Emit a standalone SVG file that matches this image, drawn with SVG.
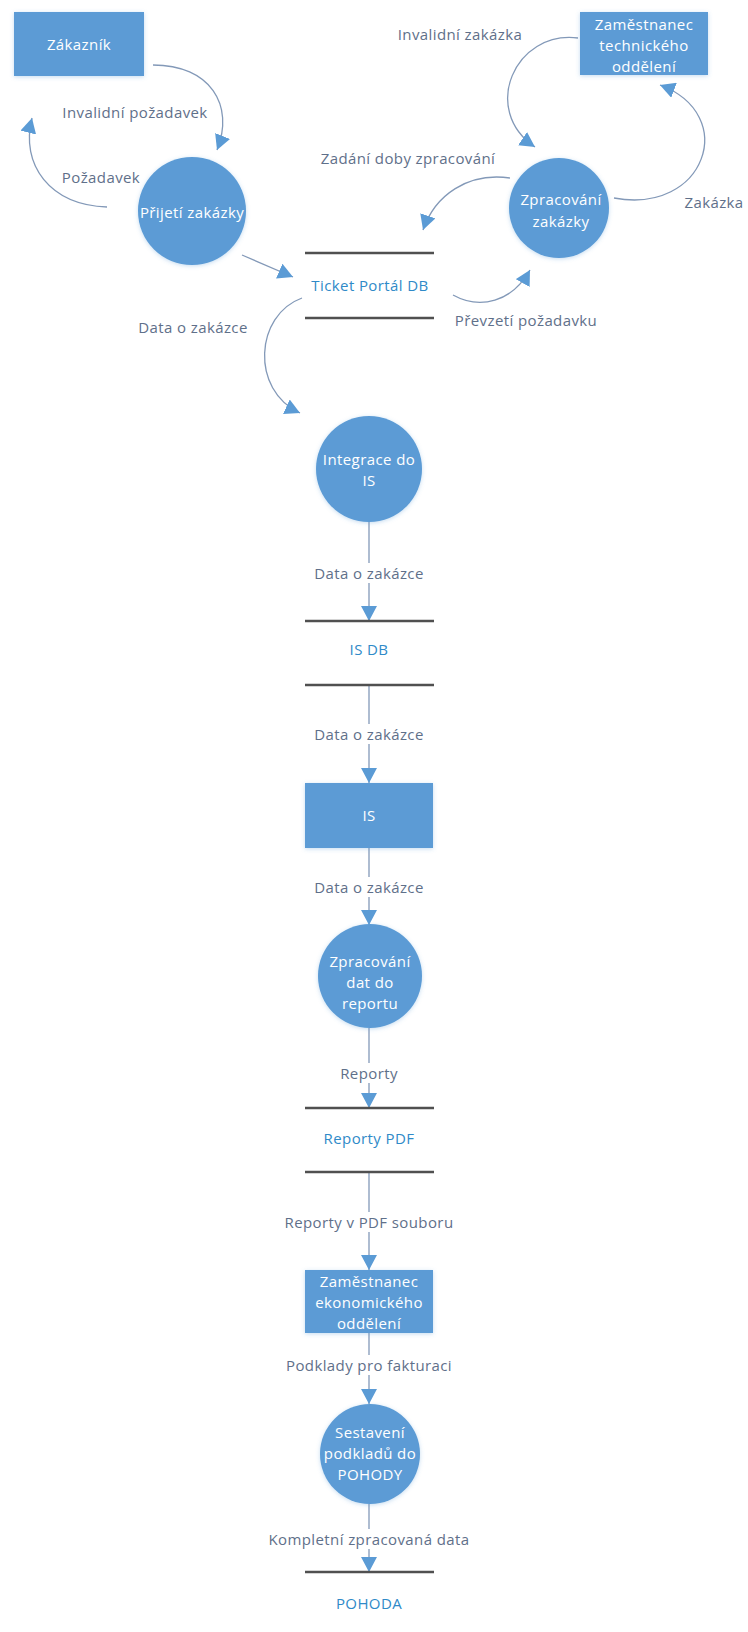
<svg xmlns="http://www.w3.org/2000/svg" width="748" height="1632" viewBox="0 0 748 1632">
<style>
text{font-family:"Open Sans","Noto Sans","Liberation Sans",sans-serif;font-size:15px;letter-spacing:0.4px;text-anchor:middle;dominant-baseline:central}
.node{fill:#5b9bd5;filter:url(#sh)}
.nt{fill:#ffffff}
.lbl{fill:#5f708a}
.st{fill:#2f8ac8}
.stl{stroke:#505050;stroke-width:2.5}
.c{fill:none;stroke:#8399b8;stroke-width:1.3}
.a{marker-end:url(#ah)}
.bg{fill:#ffffff}
</style>
<defs>
<filter id="sh" x="-20%" y="-20%" width="140%" height="140%">
<feDropShadow dx="0" dy="1" stdDeviation="2" flood-color="#5b9bd5" flood-opacity="0.35"/>
</filter>
<marker id="ah" markerUnits="userSpaceOnUse" markerWidth="16" markerHeight="16" refX="15" refY="8" orient="auto">
<path d="M0,0 L15,8 L0,16 Z" fill="#5b9bd5"/>
</marker>
</defs>
<rect width="748" height="1632" fill="#ffffff"/>

<g id="connectors">
<path class="c a" d="M153,65 C210,65 235,105 217,150"/>
<path class="c a" d="M107,207 C50,205 20,165 32,118"/>
<path class="c a" d="M242,255 L293,277"/>
<path class="c a" d="M578,38 C515,30 480,110 535,147"/>
<path class="c a" d="M614,198 C705,215 740,115 660,85"/>
<path class="c a" d="M510,178 C468,172 435,195 423,230"/>
<path class="c a" d="M453,295 C480,310 512,302 530,270"/>
<path class="c a" d="M302,298 C255,315 250,390 300,413"/>
<path class="c a" d="M369,521 L369,621"/>
<path class="c a" d="M369,685 L369,783"/>
<path class="c a" d="M369,848 L369,925"/>
<path class="c a" d="M369,1028 L369,1108"/>
<path class="c a" d="M369,1172 L369,1270"/>
<path class="c a" d="M369,1333 L369,1404"/>
<path class="c a" d="M369,1504 L369,1572"/>

<text class="lbl" x="135" y="112">Invalidní požadavek</text>
<text class="lbl" x="101" y="177">Požadavek</text>
<text class="lbl" x="460" y="34">Invalidní zakázka</text>
<text class="lbl" x="408" y="158">Zadání doby zpracování</text>
<text class="lbl" x="714" y="202">Zakázka</text>
<text class="lbl" x="526" y="320">Převzetí požadavku</text>
<text class="lbl" x="193" y="327">Data o zakázce</text>

<rect class="bg" x="306" y="563" width="126" height="20"/>
<text class="lbl" x="369" y="573">Data o zakázce</text>
<rect class="bg" x="306" y="724" width="126" height="20"/>
<text class="lbl" x="369" y="734">Data o zakázce</text>
<rect class="bg" x="306" y="877" width="126" height="20"/>
<text class="lbl" x="369" y="887">Data o zakázce</text>
<rect class="bg" x="334" y="1063" width="70" height="20"/>
<text class="lbl" x="369" y="1073">Reporty</text>
<rect class="bg" x="274" y="1212" width="190" height="20"/>
<text class="lbl" x="369" y="1222">Reporty v PDF souboru</text>
<rect class="bg" x="274" y="1355" width="190" height="20"/>
<text class="lbl" x="369" y="1365">Podklady pro fakturaci</text>
<rect class="bg" x="260" y="1529" width="218" height="20"/>
<text class="lbl" x="369" y="1539">Kompletní zpracovaná data</text>
</g>

<g id="zakaznik">
<rect class="node" x="14" y="12" width="130" height="64"/>
<text class="nt" x="79" y="44">Zákazník</text>
</g>

<g id="zam-tech">
<rect class="node" x="580" y="12" width="128" height="63"/>
<text class="nt" x="644" y="24">Zaměstnanec</text>
<text class="nt" x="644" y="45">technického</text>
<text class="nt" x="644" y="66">oddělení</text>
</g>

<g id="prijeti">
<circle class="node" cx="192" cy="211" r="54"/>
<text class="nt" x="192" y="212">Přijetí zakázky</text>
</g>

<g id="zpracovani-zakazky">
<circle class="node" cx="559" cy="208" r="50"/>
<text class="nt" x="561" y="199">Zpracování</text>
<text class="nt" x="561" y="221">zakázky</text>
</g>

<g id="ticket-portal-db">
<line class="stl" x1="305" y1="253" x2="434" y2="253"/>
<line class="stl" x1="305" y1="318" x2="434" y2="318"/>
<text class="st" x="370" y="285">Ticket Portál DB</text>
</g>

<g id="integrace">
<circle class="node" cx="369" cy="469" r="53"/>
<text class="nt" x="369" y="459">Integrace do</text>
<text class="nt" x="369" y="480">IS</text>
</g>

<g id="is-db">
<line class="stl" x1="305" y1="621" x2="434" y2="621"/>
<line class="stl" x1="305" y1="685" x2="434" y2="685"/>
<text class="st" x="369" y="649">IS DB</text>
</g>

<g id="is">
<rect class="node" x="305" y="783" width="128" height="65"/>
<text class="nt" x="369" y="815">IS</text>
</g>

<g id="zpracovani-dat">
<circle class="node" cx="370" cy="976" r="52"/>
<text class="nt" x="370" y="961">Zpracování</text>
<text class="nt" x="370" y="982">dat do</text>
<text class="nt" x="370" y="1003">reportu</text>
</g>

<g id="reporty-pdf">
<line class="stl" x1="305" y1="1108" x2="434" y2="1108"/>
<line class="stl" x1="305" y1="1172" x2="434" y2="1172"/>
<text class="st" x="369" y="1138">Reporty PDF</text>
</g>

<g id="zam-ekon">
<rect class="node" x="305" y="1270" width="128" height="63"/>
<text class="nt" x="369" y="1281">Zaměstnanec</text>
<text class="nt" x="369" y="1302">ekonomického</text>
<text class="nt" x="369" y="1323">oddělení</text>
</g>

<g id="sestaveni">
<circle class="node" cx="370" cy="1454" r="50"/>
<text class="nt" x="370" y="1432">Sestavení</text>
<text class="nt" x="370" y="1453">podkladů do</text>
<text class="nt" x="370" y="1474">POHODY</text>
</g>

<g id="pohoda">
<line class="stl" x1="305" y1="1572" x2="434" y2="1572"/>
<text class="st" x="369" y="1603">POHODA</text>
</g>
</svg>
